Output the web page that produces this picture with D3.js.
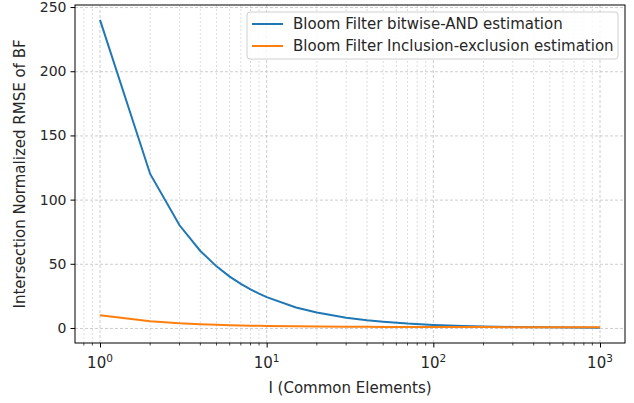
<!DOCTYPE html>
<html>
<head>
<meta charset="utf-8">
<script src="https://cdn.jsdelivr.net/npm/d3@7"></script>
<style>
  body { margin: 0; background: #fff; }
  text { font-family: "DejaVu Sans", sans-serif; fill: #262626; }
</style>
</head>
<body>
<figure id="chart" style="margin:0"></figure>
<script>
// values
var commonElements = [1, 2, 3, 4, 5, 6, 7, 8, 9, 10, 15, 20, 30, 40, 50, 70, 100, 150, 200, 300, 500, 700, 1000];
var bitwiseAnd = [240, 120, 80, 60, 48, 40, 34.3, 30, 26.7, 24, 16, 12, 8, 6, 4.8, 3.4, 2.4, 1.6, 1.2, 0.8, 0.5, 0.35, 0.25];
var inclusionExclusion = [10, 5.2, 3.6, 2.9, 2.5, 2.2, 2.0, 1.8, 1.7, 1.6, 1.3, 1.15, 1.0, 0.9, 0.85, 0.8, 0.75, 0.7, 0.68, 0.66, 0.64, 0.62, 0.6];
var seriesNames = ["Bloom Filter bitwise-AND estimation", "Bloom Filter Inclusion-exclusion estimation"];
var yTicks = [0, 50, 100, 150, 200, 250];
var xTicks = [1, 10, 100, 1000];

var fontSize = "15px";

var dimensions = {
	width: 634,
	height: 403,
	margin: { top: 5, right: 9, bottom: 60, left: 75 }
};
dimensions.boundedWidth = dimensions.width - dimensions.margin.left - dimensions.margin.right;
dimensions.boundedHeight = dimensions.height - dimensions.margin.top - dimensions.margin.bottom;

var svg = d3.select("figure#chart")
	.append("svg")
	.attr("width", dimensions.width)
	.attr("height", dimensions.height);

var chart = svg.append("g")
	.attr("transform", `translate(${dimensions.margin.left},${dimensions.margin.top})`);

// matplotlib style 5% margins on log axis
var xScale = d3.scaleLog()
	.domain([Math.pow(10, -0.15), Math.pow(10, 3.15)])
	.range([0, dimensions.boundedWidth]);

var yScale = d3.scaleLinear()
	.domain([-11.7, 251.6])
	.range([dimensions.boundedHeight, 0]);

// minor ticks 2..9 per decade
var minorTicks = [];
[0.1, 1, 10, 100, 1000].forEach(function(dec) {
	for (var k = 2; k <= 9; k++) minorTicks.push(dec * k);
});
minorTicks = minorTicks.filter(d => d >= xScale.domain()[0] && d <= xScale.domain()[1]);

// grid
chart.append("g").selectAll("line.minor")
	.data(minorTicks)
	.enter().append("line")
	.attr("x1", d => xScale(d)).attr("x2", d => xScale(d))
	.attr("y1", 0).attr("y2", dimensions.boundedHeight)
	.attr("stroke", "#c8c8c8").attr("stroke-width", 0.6)
	.attr("stroke-dasharray", "2,2");

chart.append("g").selectAll("line.major")
	.data(xTicks)
	.enter().append("line")
	.attr("x1", d => xScale(d)).attr("x2", d => xScale(d))
	.attr("y1", 0).attr("y2", dimensions.boundedHeight)
	.attr("stroke", "#c0c0c0").attr("stroke-width", 0.8)
	.attr("stroke-dasharray", "3,2");

chart.append("g").selectAll("line.ygrid")
	.data(yTicks)
	.enter().append("line")
	.attr("x1", 0).attr("x2", dimensions.boundedWidth)
	.attr("y1", d => yScale(d) + 0.5).attr("y2", d => yScale(d) + 0.5)
	.attr("stroke", "#c0c0c0").attr("stroke-width", 0.8)
	.attr("stroke-dasharray", "3,2");

// lines
var lineGen = function(values) {
	return d3.line()
		.x((d, i) => xScale(commonElements[i]))
		.y(d => yScale(d))(values);
};

chart.append("path")
	.attr("d", lineGen(bitwiseAnd))
	.attr("fill", "none")
	.attr("stroke", "#1f77b4")
	.attr("stroke-width", 2);

chart.append("path")
	.attr("d", lineGen(inclusionExclusion))
	.attr("fill", "none")
	.attr("stroke", "#ff7f0e")
	.attr("stroke-width", 2);

// axes
var xAxis = chart.append("g")
	.attr("transform", `translate(0, ${dimensions.boundedHeight})`)
	.call(d3.axisBottom(xScale).tickValues(xTicks).tickSize(4.5).tickFormat(""));
xAxis.select(".domain").remove();
xAxis.selectAll("line").attr("stroke", "#000").attr("stroke-width", 1);

chart.append("g")
	.attr("transform", `translate(0, ${dimensions.boundedHeight})`)
	.selectAll("line")
	.data(minorTicks)
	.enter().append("line")
	.attr("x1", d => xScale(d)).attr("x2", d => xScale(d))
	.attr("y1", 0).attr("y2", 2.5)
	.attr("stroke", "#000").attr("stroke-width", 0.7);

// x tick labels 10^n
var xLabels = chart.append("g").selectAll("text")
	.data(xTicks)
	.enter().append("text")
	.attr("x", d => xScale(d))
	.attr("y", dimensions.boundedHeight + 25)
	.attr("text-anchor", "middle")
	.style("font-size", fontSize);
xLabels.append("tspan").text("10");
xLabels.append("tspan")
	.attr("dy", -6)
	.style("font-size", "10.5px")
	.text(d => Math.round(Math.log10(d)));

var yAxis = chart.append("g")
	.call(d3.axisLeft(yScale).tickValues(yTicks).tickSize(4.5).tickPadding(4));
yAxis.select(".domain").remove();
yAxis.selectAll("line").attr("stroke", "#000").attr("stroke-width", 1);
yAxis.selectAll("text").style("font-size", "14px").style("font-family", "DejaVu Sans").attr("fill", "#262626");

// frame
chart.append("rect")
	.attr("x", 0).attr("y", 0)
	.attr("width", dimensions.boundedWidth)
	.attr("height", dimensions.boundedHeight)
	.attr("fill", "none")
	.attr("stroke", "#000")
	.attr("stroke-width", 1);

// axis titles
svg.append("text")
	.attr("x", dimensions.margin.left + dimensions.boundedWidth / 2)
	.attr("y", 393)
	.attr("text-anchor", "middle")
	.style("font-size", fontSize)
	.text("I (Common Elements)");

svg.append("text")
	.attr("transform", `translate(25, ${dimensions.margin.top + dimensions.boundedHeight / 2}) rotate(-90)`)
	.attr("text-anchor", "middle")
	.style("font-size", fontSize)
	.text("Intersection Normalized RMSE of BF");

// legend
var legend = svg.append("g").attr("transform", "translate(247, 12)");
legend.append("rect")
	.attr("width", 371).attr("height", 47)
	.attr("rx", 3)
	.attr("fill", "#fff").attr("fill-opacity", 0.8)
	.attr("stroke", "#d0d0d0").attr("stroke-width", 1);
var colors = ["#1f77b4", "#ff7f0e"];
seriesNames.forEach(function(name, i) {
	var y = 12 + i * 22;
	legend.append("line")
		.attr("x1", 5).attr("x2", 36)
		.attr("y1", y).attr("y2", y)
		.attr("stroke", colors[i]).attr("stroke-width", 2);
	legend.append("text")
		.attr("x", 46).attr("y", y + 5)
		.style("font-size", fontSize)
		.text(name);
});
</script>
</body>
</html>
